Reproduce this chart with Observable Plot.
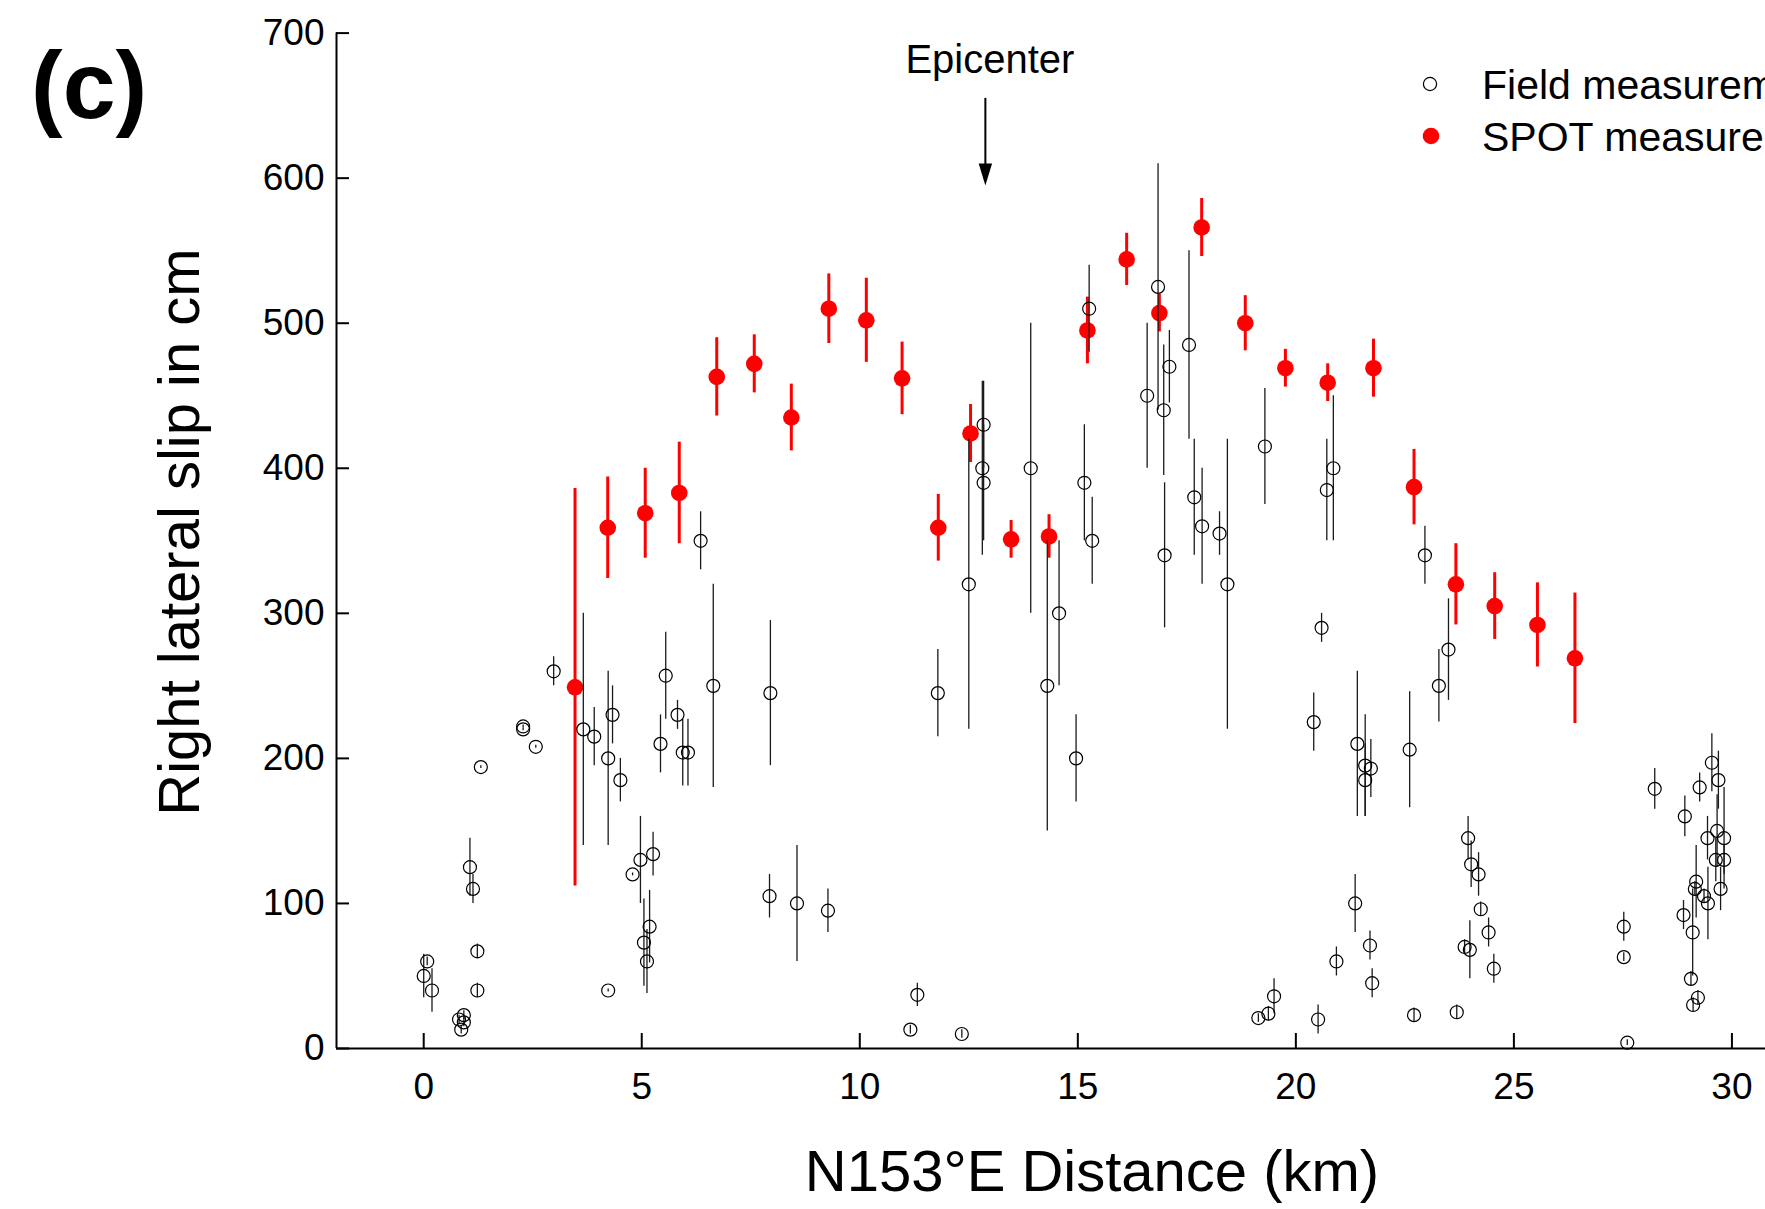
<!DOCTYPE html>
<html>
<head>
<meta charset="utf-8">
<script src="https://cdn.jsdelivr.net/npm/d3@7"></script>
<script src="https://cdn.jsdelivr.net/npm/@observablehq/plot@0.6"></script>
<style>
  html, body { margin: 0; padding: 0; background: #fff; overflow: hidden; }
  #chart { width: 1765px; height: 1209px; position: relative; }
</style>
</head>
<body>
<div id="chart"></div>
<script>
// ---------- Data ----------
const fieldKm = [
  0.00, 0.08, 0.19, 0.81, 0.92, 0.92, 0.86, 1.06, 1.13, 1.23, 1.23, 1.31, 2.28, 2.28, 2.57, 2.98,
  3.66, 3.91, 4.23, 4.33, 4.51, 4.23, 4.79, 4.97, 5.26, 5.05, 5.18, 5.12, 5.43, 5.55, 5.82, 5.94,
  6.06, 6.64, 6.35,
  7.95, 11.79, 14.30, 14.57, 14.96, 7.93, 8.56, 9.27, 11.32, 11.16, 12.34,
  15.26, 12.84, 12.81, 12.84, 12.50, 13.92, 15.15, 15.33, 16.59,
  16.84, 16.97, 17.10, 17.55, 16.99, 17.67, 17.85, 18.25, 18.43, 19.29, 20.71, 20.86, 22.96,
  20.59, 20.41, 21.41, 21.59, 21.59, 21.72, 22.61, 23.28, 23.50, 23.95, 24.02, 24.19, 24.24,
  24.42, 24.54, 23.87, 23.99, 23.69, 22.71, 21.36, 21.70, 21.75, 20.93, 20.51, 19.50, 19.37, 19.14,
  27.52, 27.52, 27.60, 28.23, 28.92, 29.26, 29.54, 29.69, 29.44, 29.66, 29.82, 29.63, 29.82,
  29.74, 29.18, 29.15, 29.36, 29.45, 28.89, 29.10, 29.06, 29.22, 29.11
];
const fieldSlip = [
  50, 60, 40, 20, 23, 18, 13, 125, 110, 67, 40, 194, 222, 220, 208, 260,
  220, 215, 200, 230, 185, 40, 120, 130, 134, 73, 84, 60, 210, 257, 230, 204,
  204, 250, 350,
  245, 245, 250, 300, 200, 105, 100, 95, 37, 13, 10,
  510, 430, 400, 390, 320, 400, 390, 350, 450,
  525, 440, 470, 485, 340, 380, 360, 355, 320, 415, 385, 400, 340,
  290, 225, 210, 195, 185, 193, 206, 250, 275, 145, 127, 120, 96,
  80, 55, 70, 68, 25, 23, 100, 71, 45, 60, 20, 36, 24, 21,
  84, 63, 4, 179, 160, 180, 197, 185, 145, 150, 145, 130, 130,
  110, 115, 110, 105, 100, 92, 80, 48, 35, 30
];
const fieldErr = [
  15, 3, 15, 3, 3, 3, 3, 20, 10, 5, 5, 1, 1, 1, 1, 10,
  80, 20, 60, 20, 15, 1, 1, 30, 15, 30, 25, 22, 20, 30, 10, 23,
  23, 70, 20,
  50, 30, 100, 50, 30, 15, 40, 15, 8, 3, 3,
  30, 30, 60, 40, 100, 100, 40, 30, 50,
  85, 45, 25, 65, 50, 40, 40, 15, 100, 40, 35, 50, 20,
  10, 20, 50, 35, 25, 20, 40, 25, 35, 15, 16, 15, 5,
  10, 10, 5, 20, 5, 5, 20, 10, 10, 10, 10, 12, 5, 3,
  10, 3, 2, 14, 14, 10, 20, 20, 15, 25, 35, 15, 10,
  15, 25, 5, 5, 25, 10, 30, 5, 5, 5
];

const spotKm = [
  3.47, 4.22, 5.08, 5.86, 6.72, 7.58, 8.43, 9.29, 10.15, 10.97, 11.80, 12.54, 13.47, 14.34,
  15.22, 16.12, 16.87, 17.84, 18.84, 19.76, 20.73, 21.78, 22.71, 23.67, 24.56, 25.54, 26.40
];
const spotSlip = [
  249, 359, 369, 383, 463, 472, 435, 510, 502, 462, 359, 424, 351, 353,
  495, 544, 507, 566, 500, 469, 459, 469, 387, 320, 305, 292, 269
];
const spotErr = [
  137, 35, 31, 35, 27, 20, 23, 24, 29, 25, 23, 20, 13, 15,
  23, 18, 13, 20, 19, 13, 13, 20, 26, 28, 23, 29, 45
];

const xTicks = [0, 5, 10, 15, 20, 25, 30];
const yTicks = [0, 100, 200, 300, 400, 500, 600, 700];

const panelLabel = "(c)";
const xTitle = "N153°E Distance (km)";
const yTitle = "Right lateral slip in cm";
const epicenterLabel = "Epicenter";
const epicenterKm = 12.88;
const epicenterArrowTop = 655;
const epicenterArrowTip = 595;
const legendLabels = ["Field measurements", "SPOT measurements"];

// ---------- Tables ----------
const field = fieldKm.map((k, i) => ({km: k, slip: fieldSlip[i], err: fieldErr[i]}));
const spot = spotKm.map((k, i) => ({km: k, slip: spotSlip[i], err: spotErr[i]}));

const W = 1765, H = 1209;
const FONT = "'Liberation Sans', Arial, Helvetica, sans-serif";

// narrow filled arrow head, tip at the anchor point
const arrowHead = {
  draw(context) {
    context.moveTo(0, 0);
    context.lineTo(-6.7, -22);
    context.lineTo(6.7, -22);
    context.closePath();
  }
};

const plot = Plot.plot({
  width: W,
  height: H,
  marginLeft: 336,
  marginRight: 0,
  marginTop: 32.6,
  marginBottom: 161,
  style: {fontFamily: FONT, fontSize: "37px", background: "white", color: "black"},
  x: {domain: [-2, 30.77]},
  y: {domain: [0, 700]},
  marks: [
    // axes lines
    Plot.ruleY([0], {stroke: "black", strokeWidth: 2}),
    Plot.ruleX([-2], {stroke: "black", strokeWidth: 2}),
    // inward ticks
    Plot.ruleX(xTicks, {x: d => d, y1: () => 0, y2: () => 0, insetTop: -15, stroke: "black", strokeWidth: 2}),
    Plot.ruleY(yTicks, {y: d => d, x1: () => -2, x2: () => -2, insetRight: -13, stroke: "black", strokeWidth: 2}),
    Plot.axisX({ticks: xTicks, tickSize: 0, tickPadding: 24, label: null, fontSize: 37, tickFormat: d => String(d)}),
    Plot.axisY({ticks: yTicks, tickSize: 0, tickPadding: 12, label: null, fontSize: 37, tickFormat: d => String(d)}),
    // SPOT measurements
    Plot.ruleX(spot, {x: "km", y1: d => d.slip - d.err, y2: d => d.slip + d.err, stroke: "#ff0000", strokeWidth: 3}),
    Plot.dot(spot, {x: "km", y: "slip", r: 8.3, fill: "#ff0000", stroke: "none"}),
    // Field measurements
    Plot.ruleX(field, {x: "km", y1: d => d.slip - d.err, y2: d => d.slip + d.err, stroke: "#1a1a1a", strokeWidth: 1.3}),
    Plot.dot(field, {x: "km", y: "slip", r: 6.5, fill: "none", stroke: "black", strokeWidth: 1.2}),
    // Epicenter arrow
    Plot.ruleX([epicenterKm], {x: d => d, y1: () => epicenterArrowTop, y2: () => epicenterArrowTip + 8, stroke: "black", strokeWidth: 2}),
    Plot.dot([epicenterKm], {x: d => d, y: () => epicenterArrowTip, symbol: arrowHead, r: 5, fill: "black", stroke: "none"})
  ]
});

const svg = d3.select(plot);
const sx = plot.scale("x");

// panel label
svg.append("text")
  .attr("x", 31).attr("y", 118)
  .attr("text-anchor", "start")
  .attr("font-family", FONT).attr("font-size", 95).attr("font-weight", "bold")
  .attr("fill", "black")
  .text(panelLabel);

// epicenter label
svg.append("text")
  .attr("x", sx.apply(epicenterKm) + 5).attr("y", 73)
  .attr("text-anchor", "middle")
  .attr("font-family", FONT).attr("font-size", 40)
  .attr("fill", "black")
  .text(epicenterLabel);

// x title
svg.append("text")
  .attr("x", 1092).attr("y", 1191)
  .attr("text-anchor", "middle")
  .attr("font-family", FONT).attr("font-size", 58)
  .attr("fill", "black")
  .text(xTitle);

// y title
svg.append("text")
  .attr("transform", "translate(199,532) rotate(-90)")
  .attr("text-anchor", "middle")
  .attr("font-family", FONT).attr("font-size", 58)
  .attr("fill", "black")
  .text(yTitle);

// legend
const lg = svg.append("g").attr("font-family", FONT).attr("font-size", 41)
  .attr("fill", "black").attr("text-anchor", "start");
lg.append("circle").attr("cx", 1430).attr("cy", 84).attr("r", 6.6)
  .attr("fill", "none").attr("stroke", "black").attr("stroke-width", 1.2);
lg.append("text").attr("x", 1482).attr("y", 99).attr("text-anchor", "start").text(legendLabels[0]);
lg.append("circle").attr("cx", 1431).attr("cy", 136).attr("r", 8.3).attr("fill", "#ff0000");
lg.append("text").attr("x", 1482).attr("y", 151).attr("text-anchor", "start").text(legendLabels[1]);

document.getElementById("chart").appendChild(plot);
</script>
</body>
</html>
